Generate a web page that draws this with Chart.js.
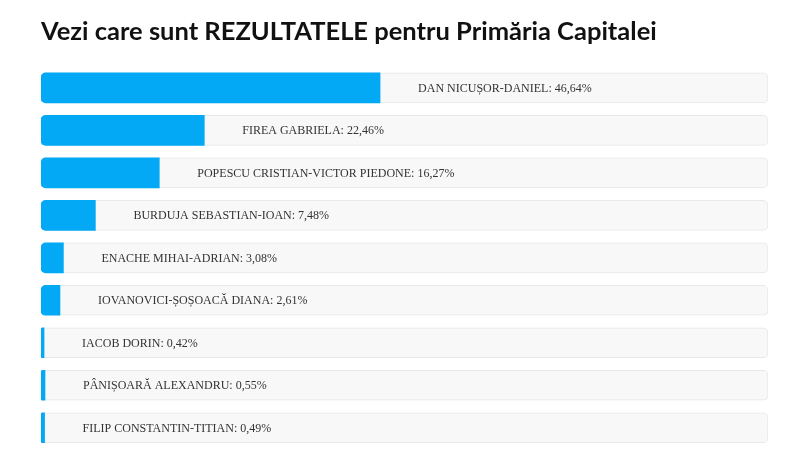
<!DOCTYPE html>
<html>
<head>
<meta charset="utf-8">
<script src="https://cdn.jsdelivr.net/npm/chart.js@4"></script>
<style>
  html, body { margin: 0; padding: 0; background: #fff; }
  #wrap { width: 800px; height: 464px; }
</style>
</head>
<body>
<div id="wrap"><canvas id="resultsChart"></canvas></div>
<script>
let candidates = [
    'DAN NICUȘOR-DANIEL',
    'FIREA GABRIELA',
    'POPESCU CRISTIAN-VICTOR PIEDONE',
    'BURDUJA SEBASTIAN-IOAN',
    'ENACHE MIHAI-ADRIAN',
    'IOVANOVICI-ȘOȘOACĂ DIANA',
    'IACOB DORIN',
    'PÂNIȘOARĂ ALEXANDRU',
    'FILIP CONSTANTIN-TITIAN'
];
let percentages = [46.64, 22.46, 16.27, 7.48, 3.08, 2.61, 0.42, 0.55, 0.49];
let maxPercent = 100;

// label drawn just right of each blue bar
let barLabels = {
    id: 'barLabels',
    afterDatasetsDraw(chart) {
        let ctx = chart.ctx;
        let meta = chart.getDatasetMeta(1);
        ctx.save();
        ctx.font = "12px 'Liberation Serif', 'Times New Roman', serif";
        ctx.fillStyle = '#333';
        ctx.textBaseline = 'middle';
        ctx.textAlign = 'left';
        meta.data.forEach((bar, i) => {
            let txt = candidates[i] + ': ' + percentages[i].toFixed(2).replace('.', ',') + '%';
            ctx.fillText(txt, bar.x + 38, bar.y + 1);
        });
        ctx.restore();
    }
};

let ctx = document.getElementById('resultsChart').getContext('2d');

let chart = new Chart(ctx, {
    type: 'bar',
    data: {
        labels: candidates,
        datasets: [{
            data: candidates.map(() => maxPercent),
            backgroundColor: '#f8f8f8',
            borderColor: '#e8e8e8',
            borderWidth: 1,
            borderRadius: 5,
            borderSkipped: false,
            grouped: false,
            barThickness: 30,
            order: 2
        }, {
            data: percentages,
            backgroundColor: '#03A9F4',
            borderWidth: 0,
            borderRadius: { topLeft: 5, bottomLeft: 5, topRight: 0, bottomRight: 0 },
            borderSkipped: false,
            grouped: false,
            barThickness: 30,
            order: 1
        }]
    },
    options: {
        indexAxis: 'y',
        responsive: true,
        maintainAspectRatio: false,
        animation: false,
        layout: {
            padding: { left: 41, right: 32, top: 0, bottom: 15 }
        },
        scales: {
            x: { display: false, min: 0, max: maxPercent },
            y: { display: false }
        },
        plugins: {
            legend: { display: false },
            tooltip: { enabled: false },
            title: {
                display: true,
                text: 'Vezi care sunt REZULTATELE pentru Primăria Capitalei',
                align: 'start',
                color: '#111',
                font: { family: 'Lato', size: 25.5, weight: 'bold' },
                padding: { top: 16, bottom: 20 }
            }
        }
    },
    plugins: [barLabels]
});
</script>
</body>
</html>
